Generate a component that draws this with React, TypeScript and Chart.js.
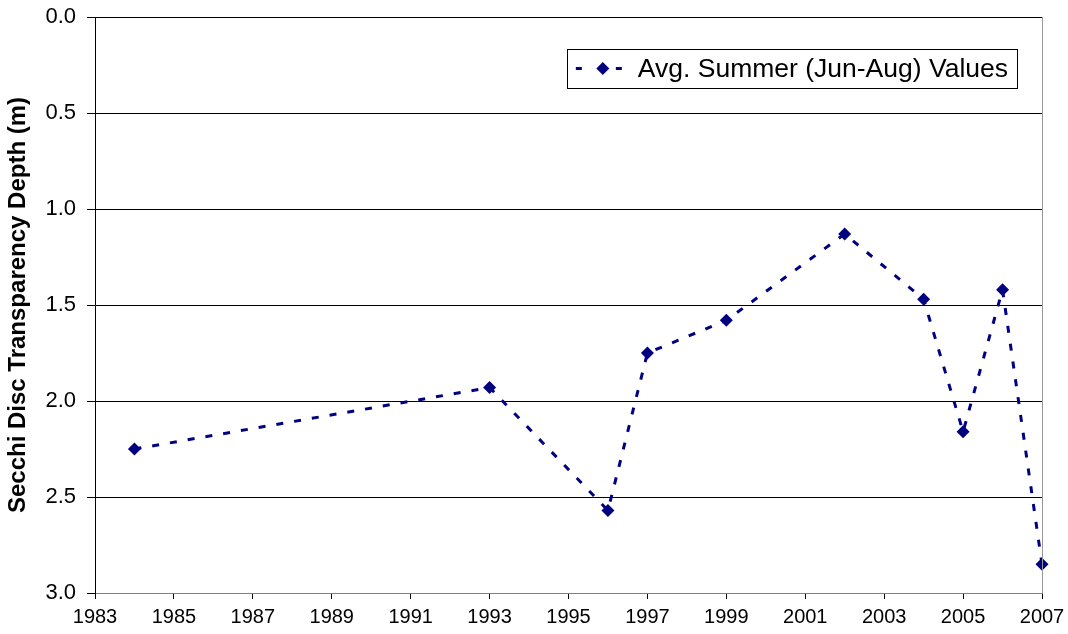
import React, { useEffect, useRef } from "react";
import { Chart, registerables } from "chart.js";

Chart.register(...registerables);

const years: number[] = [1984, 1993, 1996, 1997, 1999, 2002, 2004, 2005, 2006, 2007];
const depths: number[] = [2.25, 1.93, 2.57, 1.75, 1.58, 1.13, 1.47, 2.16, 1.42, 2.85];
const seriesLabel = "Avg. Summer (Jun-Aug) Values";
const yTitle = "Secchi Disc Transparency Depth (m)";

const NAVY = "#000080";
const FONT = "'Liberation Sans', Arial, sans-serif";

const framePlugin = {
  id: "frameAndLegend",
  afterDraw(chart: any) {
    const { ctx, chartArea } = chart;
    ctx.save();
    // right border
    ctx.strokeStyle = "#999999";
    ctx.lineWidth = 1;
    ctx.beginPath();
    ctx.moveTo(Math.round(chartArea.right) + 0.5, chartArea.top);
    ctx.lineTo(Math.round(chartArea.right) + 0.5, chartArea.bottom);
    ctx.stroke();

    // legend box
    ctx.font = `26.5px ${FONT}`;
    const label = chart.data.datasets[0].label as string;
    const tw = ctx.measureText(label).width;
    const boxRight = chartArea.right - 25;
    const boxLeft = boxRight - (tw + 80);
    const boxTop = chartArea.top + 32;
    const boxH = 39;
    ctx.fillStyle = "#ffffff";
    ctx.fillRect(boxLeft, boxTop, boxRight - boxLeft, boxH);
    ctx.strokeStyle = "#000000";
    ctx.lineWidth = 1;
    ctx.strokeRect(Math.round(boxLeft) + 0.5, Math.round(boxTop) + 0.5, Math.round(boxRight - boxLeft), boxH);
    const cy = boxTop + boxH / 2;
    // dashed sample line
    ctx.strokeStyle = NAVY;
    ctx.lineWidth = 3;
    ctx.beginPath();
    ctx.moveTo(boxLeft + 9, cy);
    ctx.lineTo(boxLeft + 15, cy);
    ctx.moveTo(boxLeft + 49, cy);
    ctx.lineTo(boxLeft + 55, cy);
    ctx.stroke();
    // diamond
    const dx = boxLeft + 36;
    ctx.fillStyle = NAVY;
    ctx.beginPath();
    ctx.moveTo(dx, cy - 6.5);
    ctx.lineTo(dx + 6.5, cy);
    ctx.lineTo(dx, cy + 6.5);
    ctx.lineTo(dx - 6.5, cy);
    ctx.closePath();
    ctx.fill();
    // text
    ctx.fillStyle = "#000000";
    ctx.textAlign = "left";
    ctx.textBaseline = "middle";
    ctx.fillText(label, boxLeft + 71, cy + 1);
    ctx.restore();
  },
};

export default function App() {
  const canvasRef = useRef<HTMLCanvasElement | null>(null);

  useEffect(() => {
    if (!canvasRef.current) return;
    const chart = new Chart(canvasRef.current, {
      type: "line",
      data: {
        datasets: [
          {
            label: seriesLabel,
            data: years.map((y, i) => ({ x: y, y: depths[i] })),
            borderColor: NAVY,
            backgroundColor: NAVY,
            borderWidth: 3,
            borderDash: [7, 11],
            pointStyle: "rectRot",
            pointRadius: 6.5,
            pointBorderWidth: 0,
            pointBackgroundColor: NAVY,
            pointBorderColor: NAVY,
            tension: 0,
            fill: false,
            clip: false,
          },
        ],
      },
      options: {
        animation: false,
        responsive: true,
        maintainAspectRatio: false,
        layout: { padding: { left: 0, right: 26, top: 17, bottom: 0 } },
        plugins: {
          legend: { display: false },
          tooltip: { enabled: false },
        },
        scales: {
          x: {
            type: "linear",
            min: 1983,
            max: 2007,
            afterFit: (scale: any) => {
              scale.height = 41;
              scale.paddingLeft = 0;
              scale.paddingRight = 0;
            },
            ticks: {
              stepSize: 2,
              autoSkip: false,
              maxRotation: 0,
              padding: 6,
              color: "#000000",
              font: { family: FONT, size: 20 },
              callback: (v: any) => String(v),
            },
            grid: {
              drawOnChartArea: false,
              drawTicks: true,
              tickLength: 6,
              color: "#000000",
            },
            border: { display: true, color: "#808080", width: 1 },
          },
          y: {
            type: "linear",
            reverse: true,
            min: 0,
            max: 3,
            afterFit: (scale: any) => {
              scale.width = 95;
              scale.paddingTop = 0;
              scale.paddingBottom = 0;
            },
            ticks: {
              stepSize: 0.5,
              padding: 11,
              color: "#000000",
              font: { family: FONT, size: 22 },
              callback: (v: any) => Number(v).toFixed(1),
            },
            grid: {
              color: "#000000",
              lineWidth: 1,
              drawTicks: true,
              tickLength: 8,
            },
            border: { display: true, color: "#000000", width: 1 },
            title: {
              display: true,
              text: yTitle,
              color: "#000000",
              font: { family: FONT, size: 24, weight: "bold" },
              padding: { top: 4, bottom: 0 },
            },
          },
        },
      },
      plugins: [framePlugin],
    });
    return () => chart.destroy();
  }, []);

  return (
    <div style={{ position: "absolute", left: 0, top: 0, width: 1068, height: 634, background: "#ffffff" }}>
      <canvas ref={canvasRef} />
    </div>
  );
}
